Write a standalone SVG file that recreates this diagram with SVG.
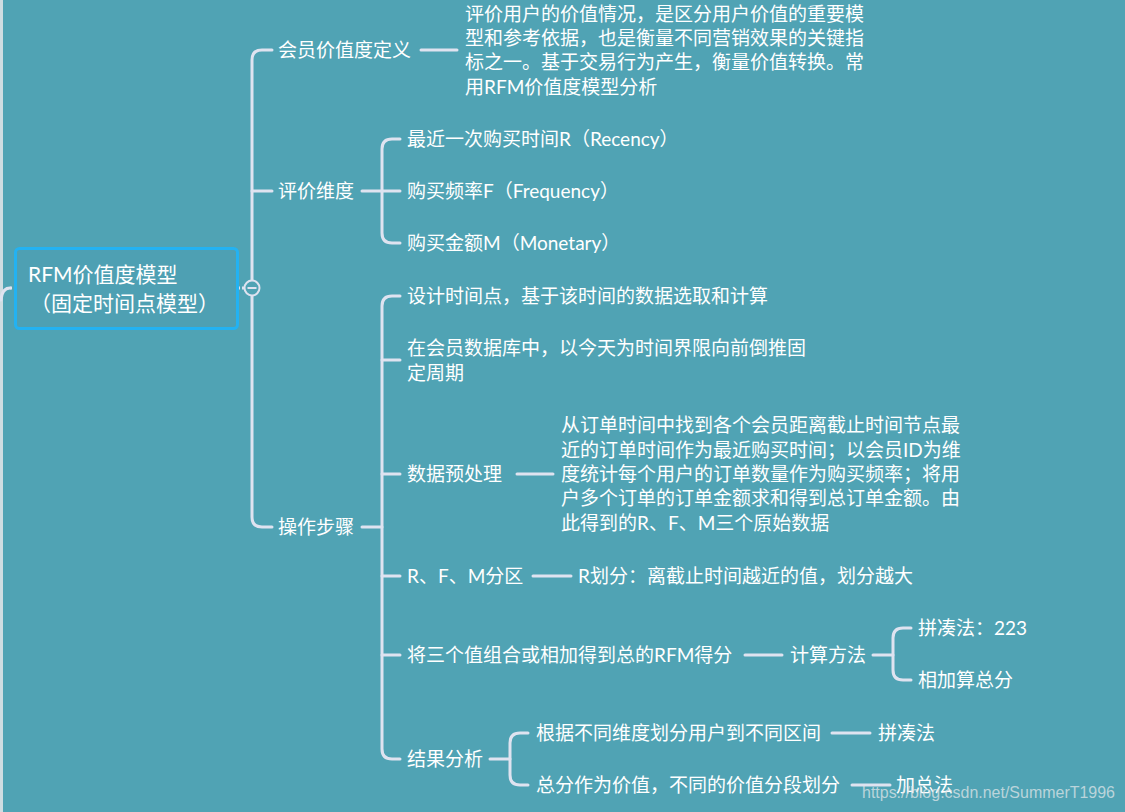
<svg xmlns="http://www.w3.org/2000/svg" width="1125" height="812" viewBox="0 0 1125 812">
<style>
  text { font-family: Lato, "Noto Sans CJK SC", sans-serif; fill: #ffffff; font-size: 19px; }
  .root { font-size: 21px; }
  .ln { fill: none; stroke: #dfe3f0; stroke-width: 3; stroke-linecap: round; }
  .wm { font-family: "Liberation Sans", Arial, sans-serif; font-size: 17px; fill: #dfe5e8; fill-opacity: 0.75; }
</style>
<rect x="0" y="0" width="1125" height="812" fill="#50a3b4"/>
<rect x="0" y="0" width="3" height="812" fill="#cfdde2"/>

<g id="connectors">
  <!-- parent link into root -->
  <path class="ln" d="M1,300 Q2,288 10,288"/>
  <path d="M10,288 H15" stroke="#dfe3f0" stroke-width="3" stroke-dasharray="2 2" fill="none"/>
  <path d="M238,288 H245" stroke="#dfe3f0" stroke-width="3" stroke-dasharray="2 2" fill="none"/>
  <!-- main trunk -->
  <path class="ln" d="M272,50 H262 Q252,50 252,60 V517 Q252,527 262,527 H272"/>
  <path class="ln" d="M252,191 H272"/>
  <!-- 会员价值度定义 -> desc -->
  <path class="ln" d="M421,50 H457"/>
  <!-- 评价维度 -->
  <path class="ln" d="M362,191 H382"/>
  <path class="ln" d="M400,139 H392 Q382,139 382,149 V233 Q382,243 392,243 H400"/>
  <path class="ln" d="M382,191 H400"/>
  <!-- 操作步骤 -->
  <path class="ln" d="M362,527 H382"/>
  <path class="ln" d="M400,296 H392 Q382,296 382,306 V749 Q382,759 392,759 H400"/>
  <path class="ln" d="M382,360 H400"/>
  <path class="ln" d="M382,474 H400"/>
  <path class="ln" d="M382,576 H400"/>
  <path class="ln" d="M382,655 H400"/>
  <!-- 数据预处理 -> desc -->
  <path class="ln" d="M517,474 H553"/>
  <!-- R、F、M分区 -->
  <path class="ln" d="M533,576 H571"/>
  <!-- 将三个值 -> 计算方法 -->
  <path class="ln" d="M745,655 H782"/>
  <path class="ln" d="M873,655 H893"/>
  <path class="ln" d="M911,628 H903 Q893,628 893,638 V670 Q893,680 903,680 H911"/>
  <!-- 结果分析 -->
  <path class="ln" d="M490,759 H510"/>
  <path class="ln" d="M528,733 H520 Q510,733 510,743 V775 Q510,785 520,785 H528"/>
  <path class="ln" d="M832,733 H870"/>
  <path class="ln" d="M852,785 H890"/>
</g>

<g id="root">
  <rect x="15.5" y="248.5" width="222" height="80" rx="4" fill="#4ea0b3" stroke="#23b2f2" stroke-width="3"/>
  <text class="root" x="28" y="282">RFM价值度模型</text>
  <text class="root" x="30" y="311">（固定时间点模型）</text>
</g>
<g id="collapse">
  <circle cx="252" cy="288" r="7.5" fill="#50a3b4" stroke="#dfe3f0" stroke-width="2"/>
  <path d="M247.5,288 H256.5" stroke="#dfe3f0" stroke-width="2"/>
</g>

<g id="n-def"><text x="278" y="57">会员价值度定义</text></g>
<g id="n-def-desc">
  <text x="465" y="21">评价用户的价值情况，是区分用户价值的重要模</text>
  <text x="465" y="45">型和参考依据，也是衡量不同营销效果的关键指</text>
  <text x="465" y="69">标之一。基于交易行为产生，衡量价值转换。常</text>
  <text x="465" y="94">用RFM价值度模型分析</text>
</g>

<g id="n-dim"><text x="278" y="198">评价维度</text></g>
<g id="n-r"><text x="407" y="146">最近一次购买时间R（Recency）</text></g>
<g id="n-f"><text x="407" y="198">购买频率F（Frequency）</text></g>
<g id="n-m"><text x="407" y="250">购买金额M（Monetary）</text></g>

<g id="n-steps"><text x="278" y="534">操作步骤</text></g>
<g id="n-s1"><text x="407" y="303">设计时间点，基于该时间的数据选取和计算</text></g>
<g id="n-s2">
  <text x="407" y="355">在会员数据库中，以今天为时间界限向前倒推固</text>
  <text x="407" y="380">定周期</text>
</g>
<g id="n-s3"><text x="407" y="481">数据预处理</text></g>
<g id="n-s3-desc">
  <text x="561" y="432">从订单时间中找到各个会员距离截止时间节点最</text>
  <text x="561" y="457">近的订单时间作为最近购买时间；以会员ID为维</text>
  <text x="561" y="481">度统计每个用户的订单数量作为购买频率；将用</text>
  <text x="561" y="505">户多个订单的订单金额求和得到总订单金额。由</text>
  <text x="561" y="530">此得到的R、F、M三个原始数据</text>
</g>
<g id="n-s4"><text x="407" y="583">R、F、M分区</text></g>
<g id="n-s4-c"><text x="578" y="583">R划分：离截止时间越近的值，划分越大</text></g>
<g id="n-s5"><text x="407" y="662">将三个值组合或相加得到总的RFM得分</text></g>
<g id="n-calc"><text x="790" y="662">计算方法</text></g>
<g id="n-calc1"><text x="918" y="635">拼凑法：223</text></g>
<g id="n-calc2"><text x="918" y="687">相加算总分</text></g>
<g id="n-s6"><text x="407" y="766">结果分析</text></g>
<g id="n-r1"><text x="536" y="740">根据不同维度划分用户到不同区间</text></g>
<g id="n-r1c"><text x="878" y="740">拼凑法</text></g>
<g id="n-r2"><text x="536" y="792">总分作为价值，不同的价值分段划分</text></g>
<g id="n-r2c"><text x="896" y="792">加总法</text></g>

<text class="wm" x="862" y="798" textLength="253" lengthAdjust="spacingAndGlyphs">https://blog.csdn.net/SummerT1996</text>
</svg>
